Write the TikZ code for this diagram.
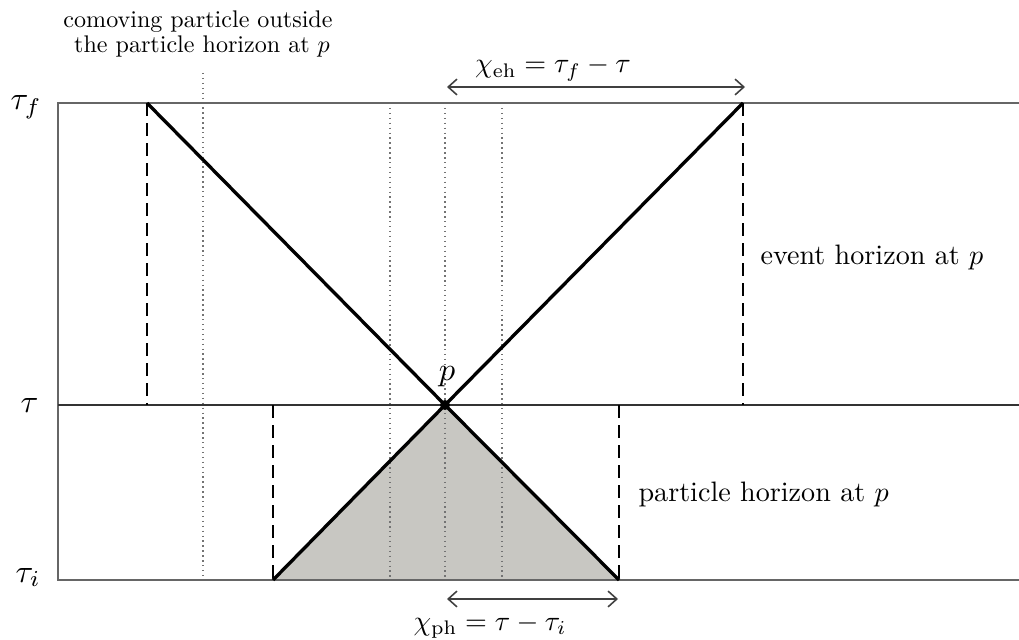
\documentclass[tikz,border=0pt]{standalone}
\usetikzlibrary{arrows.meta}
\definecolor{coneshade}{RGB}{200,199,194}
\tikzset{
  frame/.style={draw=black!60, line width=1.3pt},
  cone/.style={line width=1.9pt},
  hordash/.style={line width=1.6pt, dash pattern=on 7.4pt off 4pt},
  wline/.style={draw=black!55, line width=0.8pt, dash pattern=on 0.8pt off 2pt},
  dist/.style={draw=black!75, line width=0.9pt, {Straight Barb[length=5pt,width=9pt]}-{Straight Barb[length=5pt,width=9pt]}},
  lbl/.style={inner sep=0pt, scale=1.6, transform shape},
  como/.style={inner sep=0pt, scale=1.37, transform shape},
  tlbl/.style={inner sep=0pt, scale=1.85, transform shape, anchor=base west}
}
\begin{document}
\begin{tikzpicture}
\useasboundingbox (0,0) rectangle (20.38,12.78);
% 坐标
\coordinate (fL) at (1.16,10.72);
\coordinate (fR) at (20.38,10.72);
\coordinate (mL) at (1.16,4.68);
\coordinate (mR) at (20.38,4.68);
\coordinate (iL) at (1.16,1.18);
\coordinate (iR) at (20.38,1.18);
\coordinate (p) at (8.9,4.68);
\coordinate (ehL) at (2.94,10.72);
\coordinate (ehR) at (14.86,10.72);
\coordinate (ehLb) at (2.94,4.68);
\coordinate (ehRb) at (14.86,4.68);
\coordinate (phL) at (5.46,1.18);
\coordinate (phR) at (12.38,1.18);
\coordinate (phLt) at (5.46,4.68);
\coordinate (phRt) at (12.38,4.68);
% 阴影：粒子视界
\fill[coneshade] (phL) -- (p) -- (phR) -- cycle;
% 共动粒子世界线
\draw[wline] (4.06,11.32) -- (4.06,1.28);
\foreach \x in {7.8,8.9,10.04}
  \draw[wline] (\x,10.72) -- (\x,1.18);
% 时间线
\draw[frame] (fR) -- (fL) -- (iL) -- (iR);
\draw[frame, draw=black!80, line width=1.7pt] (mL) -- (mR);
% 光锥
\draw[cone] (ehL) -- (p) -- (ehR);
\draw[cone] (phL) -- (p) -- (phR);
\draw[hordash] (ehL) -- (ehLb);
\draw[hordash] (ehR) -- (ehRb);
\draw[hordash] (phLt) -- (phL);
\draw[hordash] (phRt) -- (phR);
\node[circle, fill, inner sep=0pt, minimum size=0.2cm] (pdot) at (p) {};
% 距离箭头
\coordinate (eh1) at (8.94,11.04);
\coordinate (eh2) at (14.9,11.04);
\coordinate (ph1) at (8.94,0.8);
\coordinate (ph2) at (12.36,0.8);
\draw[dist] (eh1) -- (eh2);
\draw[dist] (ph1) -- (ph2);
\node[lbl, anchor=base] (chieh) at (11.06,11.32) {$\chi_{\mathrm{eh}}=\tau_f-\tau$};
\node[lbl, anchor=base] (chiph) at (9.8,0.18) {$\chi_{\mathrm{ph}}=\tau-\tau_i$};
% 文字
\node[tlbl] (tauf) at (0.2,10.58) {$\tau_f$};
\node[tlbl] (tau) at (0.4,4.54) {$\tau$};
\node[tlbl] (taui) at (0.3,1.14) {$\tau_i$};
\node[tlbl, anchor=base] (plbl) at (8.94,5.18) {$p$};
\node[lbl, anchor=base west] (evh) at (15.2,7.48) {event horizon at $p$};
\node[lbl, anchor=base west] (pah) at (12.76,2.76) {particle horizon at $p$};
\node[como, anchor=base] (como1) at (3.96,12.22) {comoving particle outside};
\node[como, anchor=base] (como2) at (4.04,11.72) {the particle horizon at $p$};
\end{tikzpicture}
\end{document}
